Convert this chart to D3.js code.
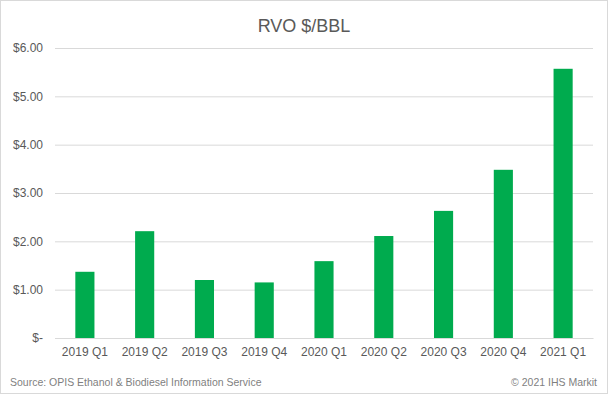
<!DOCTYPE html>
<html>
<head>
<meta charset="utf-8">
<script src="https://cdn.jsdelivr.net/npm/d3@7"></script>
<style>
  html, body { margin: 0; padding: 0; background: #fff; }
  svg { display: block; font-family: Arial, "Liberation Sans", sans-serif; }
</style>
</head>
<body>
<script>
let quarters = ['2019 Q1', '2019 Q2', '2019 Q3', '2019 Q4', '2020 Q1', '2020 Q2', '2020 Q3', '2020 Q4', '2021 Q1'];
let rvo = [1.37, 2.21, 1.20, 1.15, 1.59, 2.11, 2.63, 3.48, 5.57];
let yTicks = [0, 1, 2, 3, 4, 5, 6];

(function () {
  let width = 608, height = 394;
  let margin = { top: 48, right: 15, bottom: 56, left: 55 };

  let svg = d3.select('body').append('svg')
      .attr('width', width)
      .attr('height', height);

  // chart border
  svg.append('rect')
    .attr('x', 0.5).attr('y', 0.5)
    .attr('width', width - 1).attr('height', height - 1)
    .attr('fill', '#fff')
    .attr('stroke', '#d9d9d9');

  let x = d3.scaleBand().domain(quarters)
      .range([margin.left, width - margin.right])
      .paddingInner(0.68).paddingOuter(0.34);

  let y = d3.scaleLinear().domain([0, 6])
      .range([height - margin.bottom, margin.top]);

  let fmt = function (d) { return d === 0 ? '$-' : '$' + d.toFixed(2); };

  let yAxis = svg.append('g')
      .attr('transform', 'translate(' + margin.left + ',0)')
      .call(d3.axisLeft(y).tickValues(yTicks).tickFormat(fmt)
        .tickSize(-(width - margin.left - margin.right)).tickPadding(12));
  yAxis.select('.domain').remove();
  yAxis.selectAll('line').attr('stroke', '#d9d9d9');
  yAxis.selectAll('text').attr('fill', '#595959').style('font-size', '12px');

  let xAxis = svg.append('g')
      .attr('transform', 'translate(0,' + (height - margin.bottom) + ')')
      .call(d3.axisBottom(x).tickSize(0).tickPadding(9));
  xAxis.select('.domain').attr('stroke', '#d9d9d9');
  xAxis.selectAll('text').attr('fill', '#595959').style('font-size', '12px');

  svg.append('g').selectAll('rect.bar').data(rvo)
    .enter().append('rect')
    .attr('class', 'bar')
    .attr('x', function (d, i) { return x(quarters[i]); })
    .attr('y', function (d) { return y(d); })
    .attr('width', x.bandwidth())
    .attr('height', function (d) { return y(0) - y(d); })
    .attr('fill', '#00ab4e');

  svg.append('text')
    .attr('x', width / 2).attr('y', 32)
    .attr('text-anchor', 'middle')
    .attr('fill', '#595959')
    .style('font-size', '18px')
    .text('RVO $/BBL');

  svg.append('text')
    .attr('x', 10).attr('y', 386)
    .attr('fill', '#7f7f7f')
    .style('font-size', '10.5px')
    .text('Source: OPIS Ethanol & Biodiesel Information Service');

  svg.append('text')
    .attr('x', 597).attr('y', 386)
    .attr('text-anchor', 'end')
    .attr('fill', '#7f7f7f')
    .style('font-size', '10.5px')
    .text('\u00a9 2021 IHS Markit');
})();
</script>
</body>
</html>
